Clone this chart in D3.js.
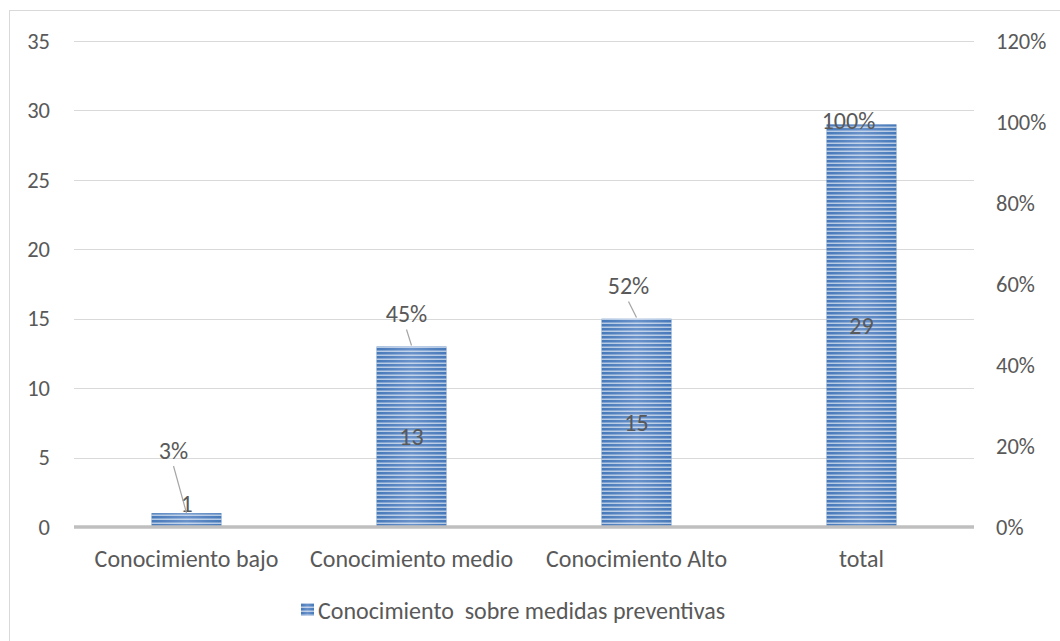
<!DOCTYPE html>
<html>
<head>
<meta charset="utf-8">
<script src="https://cdn.jsdelivr.net/npm/d3@7"></script>
<style>
  html, body { margin: 0; padding: 0; background: #fff; }
  svg { display: block; }
  text { font-family: Carlito, Calibri, Lato, sans-serif; fill: #595959; }
</style>
</head>
<body>
<svg id="chart" width="1060" height="641"></svg>
<script>
// Chart data
const categories = ["Conocimiento bajo", "Conocimiento medio", "Conocimiento Alto", "total"];
const counts = [1, 13, 15, 29];
const percents = [3, 45, 52, 100];
const leftTicks = [0, 5, 10, 15, 20, 25, 30, 35];
const rightTicks = [0, 20, 40, 60, 80, 100, 120];
const seriesName = "Conocimiento  sobre medidas preventivas";

// Percent label placement relative to its point (dx, dy) and whether a leader line is drawn
const pctOffsets = [[-13, -63, true], [-5, -32, true], [-8, -32, true], [-13, -2, false]];

const W = 1060, H = 641;
const plot = { left: 74, right: 974, top: 41, bottom: 527 };
const tickFont = 22.5;
const labelFont = 24;

const svg = d3.select("#chart");

// Bar fill: horizontal stripes over a soft blue gradient
const defs = svg.append("defs");
const grad = defs.append("linearGradient").attr("id", "barGrad")
  .attr("x1", "0").attr("x2", "1").attr("y1", "0").attr("y2", "0");
grad.append("stop").attr("offset", "0").attr("stop-color", "#4779b9");
grad.append("stop").attr("offset", "0.5").attr("stop-color", "#6a92ca");
grad.append("stop").attr("offset", "1").attr("stop-color", "#4779b9");

const pat = defs.append("pattern").attr("id", "stripes")
  .attr("patternUnits", "userSpaceOnUse").attr("width", 8).attr("height", 4);
pat.append("rect").attr("x", 0).attr("y", 2.5).attr("width", 8).attr("height", 1.5)
  .attr("fill", "#ffffff").attr("fill-opacity", 0.6);

// Outer chart frame
svg.append("rect").attr("x", 9.5).attr("y", 10.5).attr("width", 1060).attr("height", 700)
  .attr("fill", "none").attr("stroke", "#d9d9d9").attr("stroke-width", 1);

const x = d3.scaleBand().domain(categories).range([plot.left, plot.right]).paddingInner(0.689).paddingOuter(0.3445);
const y = d3.scaleLinear().domain([0, 35]).range([plot.bottom, plot.top]);
const y2 = d3.scaleLinear().domain([0, 120]).range([plot.bottom, plot.top]);

// Gridlines
svg.append("g").selectAll("line").data(leftTicks.filter(d => d > 0)).join("line")
  .attr("x1", plot.left).attr("x2", plot.right)
  .attr("y1", d => Math.round(y(d)) + 0.5).attr("y2", d => Math.round(y(d)) + 0.5)
  .attr("stroke", "#d9d9d9").attr("stroke-width", 1);

// Left axis
const leftAxis = svg.append("g").attr("transform", `translate(${plot.left},0)`)
  .call(d3.axisLeft(y).tickValues(leftTicks).tickSize(0).tickPadding(24));
leftAxis.select(".domain").remove();
leftAxis.selectAll("text").style("font-size", tickFont + "px").attr("fill", "#595959")
  .style("font-family", null);

// Right axis
const rightAxis = svg.append("g").attr("transform", `translate(${plot.right},0)`)
  .call(d3.axisRight(y2).tickValues(rightTicks).tickSize(0).tickPadding(22).tickFormat(d => d + "%"));
rightAxis.select(".domain").remove();
rightAxis.selectAll("text").style("font-size", tickFont + "px").attr("fill", "#595959")
  .style("font-family", null);

// Bars
const bars = svg.append("g");
bars.selectAll("rect.base").data(counts).join("rect").attr("class", "base")
  .attr("x", (d, i) => x(categories[i])).attr("width", x.bandwidth())
  .attr("y", d => y(d)).attr("height", d => y(0) - y(d))
  .attr("fill", "url(#barGrad)");
bars.selectAll("rect.stripe").data(counts).join("rect").attr("class", "stripe")
  .attr("x", (d, i) => x(categories[i])).attr("width", x.bandwidth())
  .attr("y", d => y(d)).attr("height", d => y(0) - y(d))
  .attr("fill", "url(#stripes)");

// Category axis line
svg.append("line").attr("x1", plot.left).attr("x2", plot.right)
  .attr("y1", plot.bottom).attr("y2", plot.bottom)
  .attr("stroke", "#bfbfbf").attr("stroke-width", 3.5);

// Category labels
svg.append("g").selectAll("text").data(categories).join("text")
  .attr("x", d => x(d) + x.bandwidth() / 2).attr("y", 558)
  .attr("text-anchor", "middle").attr("dominant-baseline", "central")
  .style("font-size", labelFont + "px").text(d => d);

// Count labels
svg.append("g").selectAll("text").data(counts).join("text")
  .attr("x", (d, i) => x(categories[i]) + x.bandwidth() / 2)
  .attr("y", d => (y(0) - y(d) < 25 ? y(d) - 10 : (y(d) + y(0)) / 2))
  .attr("text-anchor", "middle").attr("dominant-baseline", "central")
  .style("font-size", labelFont + "px").text(d => d);

// Percent labels with leader lines to their points on the secondary scale
const pctG = svg.append("g");
percents.forEach((p, i) => {
  const px = x(categories[i]) + x.bandwidth() / 2;
  const py = y2(counts[i] / counts[3] * 100);
  const [dx, dy, leader] = pctOffsets[i];
  const lx = px + dx, ly = py + dy;
  if (leader) {
    pctG.append("line").attr("x1", lx).attr("y1", ly + 16).attr("x2", px).attr("y2", py)
      .attr("stroke", "#a6a6a6").attr("stroke-width", 1.2);
  }
  pctG.append("text").attr("x", lx).attr("y", ly)
    .attr("text-anchor", "middle").attr("dominant-baseline", "central")
    .style("font-size", labelFont + "px").text(p + "%");
});

// Legend
const lg = svg.append("g");
lg.append("rect").attr("x", 301).attr("y", 603).attr("width", 13).attr("height", 13).attr("fill", "url(#barGrad)");
lg.append("rect").attr("x", 301).attr("y", 603).attr("width", 13).attr("height", 13).attr("fill", "url(#stripes)");
lg.append("text").attr("x", 318).attr("y", 610).attr("dominant-baseline", "central")
  .style("font-size", labelFont + "px").style("white-space", "pre").text(seriesName);
</script>
</body>
</html>
